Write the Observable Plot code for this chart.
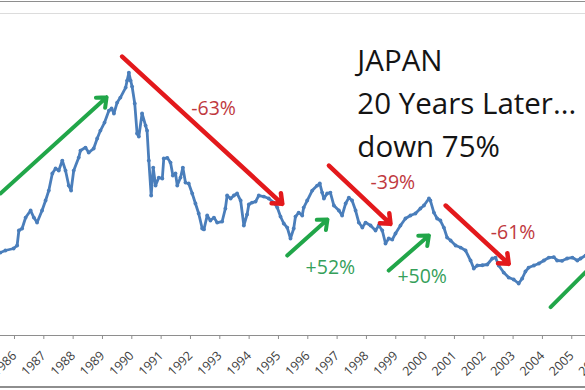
<!DOCTYPE html>
<html>
<head>
<meta charset="utf-8">
<script src="https://cdn.jsdelivr.net/npm/d3@7"></script>
<script src="https://cdn.jsdelivr.net/npm/@observablehq/plot@0.6"></script>
<style>
html, body { margin: 0; padding: 0; background: #fff; overflow: hidden; }
#wrap { position: relative; width: 585px; height: 390px; overflow: hidden; font-family: "Open Sans", sans-serif; }
#wrap svg { position: absolute; left: 0; top: 0; max-width: none !important; width: 620px !important; height: 390px !important; }
.frame { position: absolute; left: 0; width: 585px; height: 0; z-index: 2; }
.f1 { top: 1px; border-top: 1.5px solid #8e8e8e; }
.f2 { top: 13px; border-top: 1.5px solid #dcdcdc; }
.f3 { top: 386px; border-top: 2px solid #8e8e8e; }
</style>
</head>
<body>
<div id="wrap">
  <div class="frame f1"></div>
  <div class="frame f2"></div>
  <div class="frame f3"></div>
</div>
<script>
// Nikkei 225 index (decimal year, index level)
const years = [
  1985.52,1985.69,1985.97,1986.09,1986.15,1986.26,1986.38,1986.55,1986.66,1986.77,
  1986.94,1987.06,1987.17,1987.29,1987.40,1987.51,1987.63,1987.74,1987.85,1987.93,
  1988.02,1988.19,1988.25,1988.42,1988.53,1988.70,1988.82,1988.93,1989.07,1989.22,
  1989.31,1989.39,1989.50,1989.61,1989.79,1989.84,1989.90,1989.96,1990.01,1990.10,
  1990.18,1990.24,1990.35,1990.47,1990.52,1990.58,1990.66,1990.73,1990.81,1990.92,
  1991.04,1991.09,1991.21,1991.32,1991.40,1991.49,1991.55,1991.66,1991.74,1991.83,
  1991.94,1992.06,1992.17,1992.28,1992.40,1992.46,1992.57,1992.68,1992.80,1992.91,
  1993.08,1993.19,1993.25,1993.37,1993.48,1993.59,1993.71,1993.82,1993.93,1993.99,
  1994.10,1994.22,1994.33,1994.50,1994.67,1994.84,1994.96,1995.07,1995.18,1995.30,
  1995.41,1995.52,1995.58,1995.69,1995.81,1995.86,1995.98,1996.15,1996.32,1996.41,
  1996.49,1996.55,1996.66,1996.77,1996.89,1997.06,1997.17,1997.29,1997.40,1997.51,
  1997.63,1997.74,1997.86,1997.97,1998.14,1998.31,1998.42,1998.54,1998.65,1998.76,
  1998.88,1998.99,1999.16,1999.33,1999.50,1999.67,1999.84,1999.96,2000.13,2000.18,
  2000.30,2000.41,2000.52,2000.64,2000.75,2000.87,2001.04,2001.21,2001.38,2001.55,
  2001.66,2001.78,2001.95,2002.12,2002.29,2002.40,2002.51,2002.68,2002.85,2003.02,
  2003.19,2003.31,2003.42,2003.53,2003.71,2003.88,2004.05,2004.22,2004.39,2004.50,
  2004.67,2004.84,2005.02,2005.19,2005.30,2005.47
];
const values = [
  12280,12580,12880,13320,15540,15840,17460,18500,17460,16720,
  18500,19980,21460,23980,24720,24420,25900,24420,22200,21460,
  24420,26340,27380,27820,27080,27680,29160,30340,31520,33300,
  33600,32860,34480,35220,36700,37740,38900,37740,36850,34340,
  29900,29450,32860,31080,30340,25900,20720,24860,22200,23380,
  23240,26200,26300,25600,23680,23980,22200,23380,24860,22640,
  22500,21020,19540,18060,15840,15700,17760,17020,17460,16720,
  16870,18800,20720,20280,20720,21020,19980,16280,17910,19390,
  19680,19830,20720,20570,20280,19680,18940,17610,16580,15980,
  14360,15840,17610,18200,17760,18940,19980,21460,22200,22500,
  21160,20280,21020,21160,19240,18500,17760,19540,20420,19980,
  18500,16720,15980,16720,16280,15540,16280,15540,13620,14360,
  14200,15100,16280,17320,17760,18060,18800,19240,20280,19980,
  18200,17320,17020,15980,14500,14060,13320,13020,12580,11100,
  9920,10360,10400,10510,11400,11540,10360,9320,8580,8290,
  7700,8440,9470,10060,10360,10660,11100,11540,11600,11100,
  11050,11400,11540,11100,11400,11840
];
const tickYears = [1986,1987,1988,1989,1990,1991,1992,1993,1994,1995,1996,1997,1998,1999,2000,2001,2002,2003,2004,2005,2006];

// Trend arrows (start year/level -> end year/level)
const arrowKind = ["up","down","up","down","up","down","up"];
const arrowX1 = [1985.52, 1989.67, 1995.30, 1996.72, 1998.76, 2000.70, 2004.28];
const arrowY1 = [21020, 41290, 11840, 25160, 9620, 19240, 4190];
const arrowX2 = [1989.14, 1995.13, 1996.67, 1998.82, 2000.13, 2002.85, 2005.98];
const arrowY2 = [35270, 19490, 17170, 16530, 14800, 10610, 11590];

// Percentage labels
const labelText = ["-63%", "+52%", "-39%", "+50%", "-61%"];
const labelKind = ["down", "up", "down", "up", "down"];
const labelX = [1992.79, 1996.77, 1998.90, 1999.90, 2003.00];
const labelY = [33520, 9990, 22640, 8730, 15170];

// Headline text
const titleLines = ["JAPAN", "20 Years Later...", "down 75%"];
const titleX = [1997.69];
const titleY = [43660];

const pts = years.map((y, i) => ({year: y, value: values[i]}));
const arrows = arrowKind.map((k, i) => ({kind: k, x1: arrowX1[i], y1: arrowY1[i], x2: arrowX2[i], y2: arrowY2[i]}));
const labels = labelText.map((t, i) => ({text: t, kind: labelKind[i], x: labelX[i], y: labelY[i]}));
const title = [{text: titleLines.join("\n"), x: titleX[0], y: titleY[0]}];

const pxPerYear = 29.33;
const x0 = 1985.523;
const W = 620;

const chart = Plot.plot({
  width: W,
  height: 390,
  marginLeft: 0,
  marginRight: 0,
  marginTop: 31,
  marginBottom: 55,
  style: {fontFamily: "Open Sans, sans-serif", background: "transparent", overflow: "visible", maxWidth: "none"},
  x: {type: "linear", domain: [x0, x0 + W / pxPerYear], axis: null},
  y: {type: "linear", domain: [0, 45000], axis: null},
  marks: [
    Plot.ruleY([0], {stroke: "#8e8e8e", strokeWidth: 1}),
    Plot.axisX(tickYears, {
      tickFormat: d => String(d),
      tickRotate: -45,
      tickSize: 4,
      tickPadding: 14,
      stroke: "#8e8e8e",
      fill: "#404040",
      fontSize: 12.5
    }),
    Plot.line(pts, {x: "year", y: "value", stroke: "#4a7ebb", strokeWidth: 2.8, strokeLinejoin: "round"}),
    Plot.dot(pts, {x: "year", y: "value", r: 1.9, fill: "#4a7ebb"}),
    Plot.arrow(arrows, {
      x1: "x1", y1: "y1", x2: "x2", y2: "y2",
      stroke: d => d.kind === "up" ? "#21a649" : "#e3191c",
      strokeWidth: d => d.kind === "up" ? 4 : 4.5,
      headLength: 16,
      headAngle: 80
    }),
    Plot.text(labels, {
      x: "x", y: "y", text: "text",
      fill: d => d.kind === "up" ? "#35a05a" : "#c0393e",
      fontSize: 19.5
    }),
    Plot.text(title, {
      x: "x", y: "y", text: "text",
      textAnchor: "start", lineAnchor: "top",
      fontSize: 29.5, lineHeight: 1.46, fill: "#141414"
    })
  ]
});
document.getElementById("wrap").appendChild(chart);
</script>
</body>
</html>
